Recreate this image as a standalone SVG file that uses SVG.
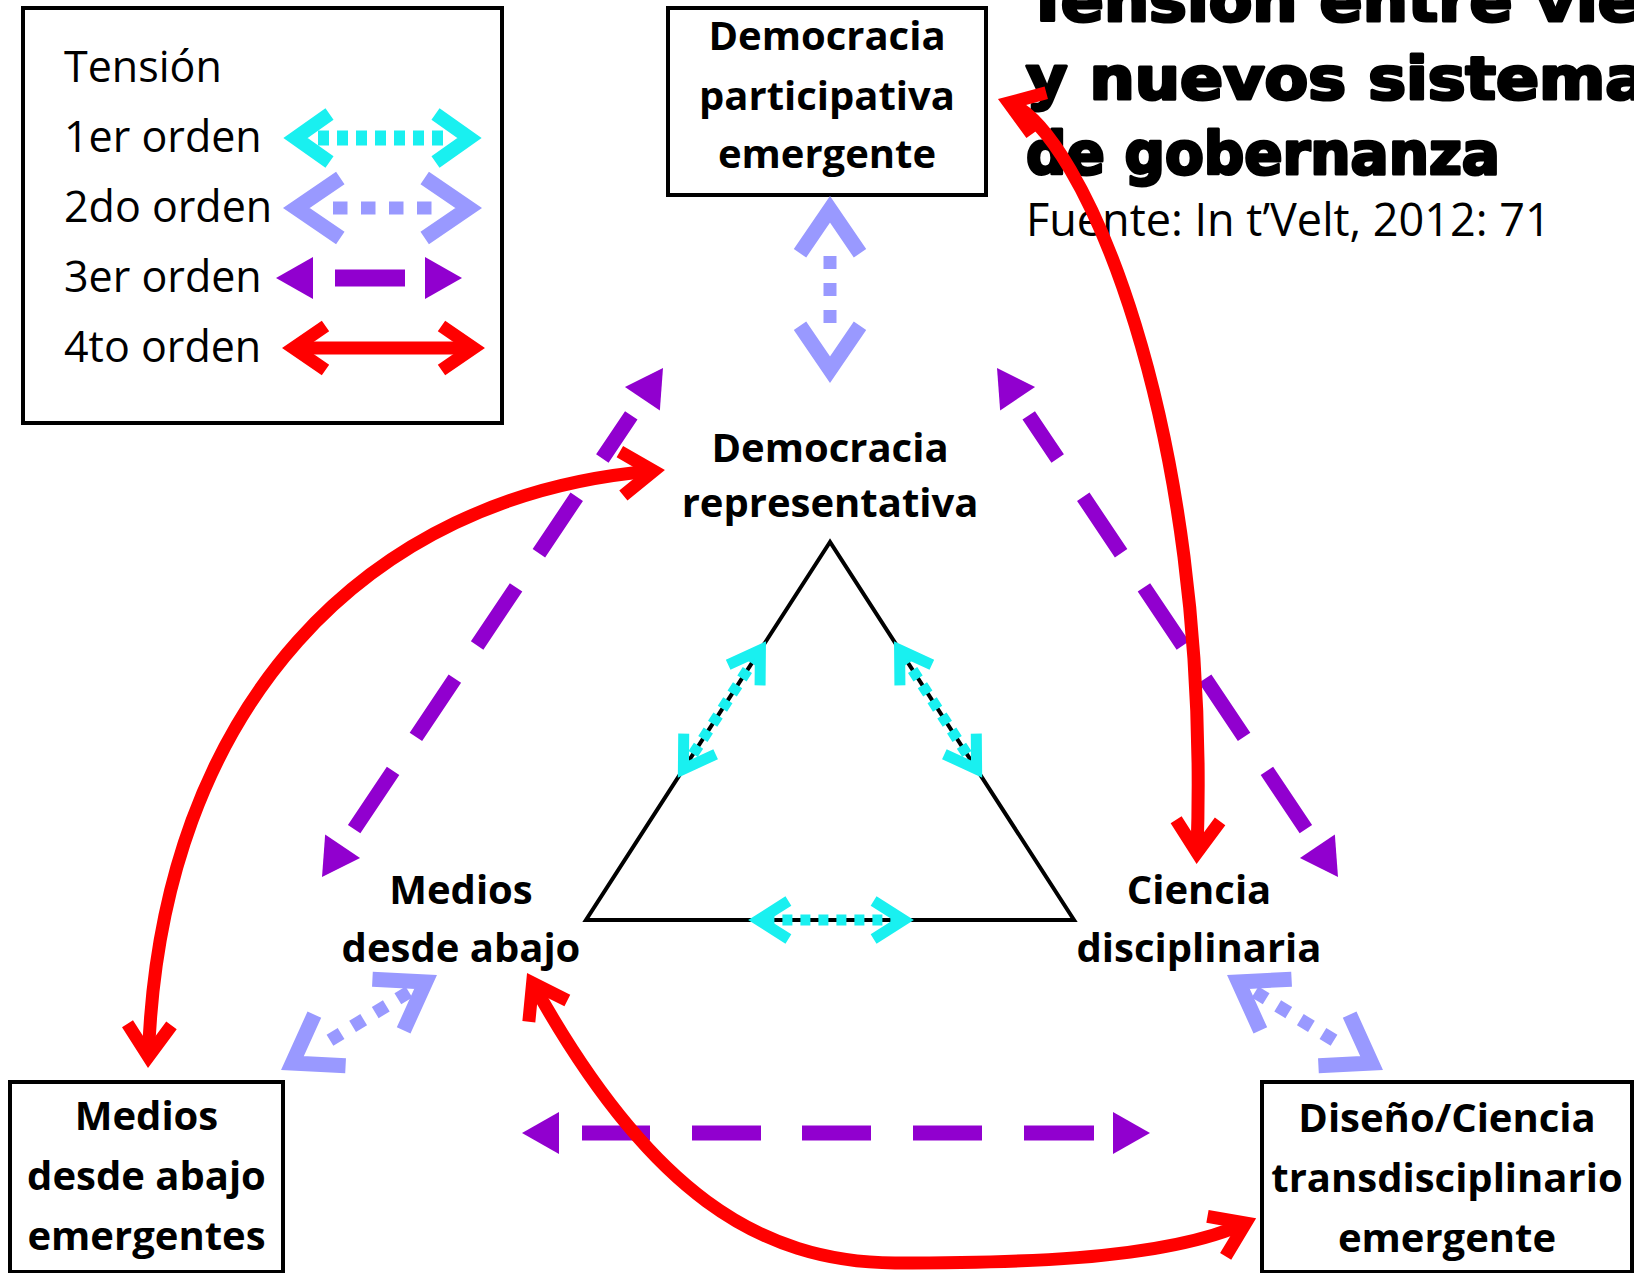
<svg xmlns="http://www.w3.org/2000/svg" width="1634" height="1273" viewBox="0 0 1634 1273">
<style>
.box{fill:none;stroke:#000;stroke-width:4}
.lbl{font-family:'Open Sans','Liberation Sans',sans-serif;font-weight:700;font-size:40px;text-anchor:middle;fill:#000}
.leg{font-family:'Open Sans','Liberation Sans',sans-serif;font-size:43px;fill:#000}
.src{font-family:'Open Sans','Liberation Sans',sans-serif;font-size:45px;fill:#000}
.ttl{font-family:'DejaVu Sans','Liberation Sans',sans-serif;font-weight:700;font-size:58px;fill:#000;stroke:#000;stroke-width:3;stroke-linejoin:round}
.cy{fill:none;stroke:#19F0F0;stroke-width:11}
.cyL{fill:none;stroke:#19F0F0;stroke-width:15}
.lav{fill:none;stroke:#9999FF;stroke-width:13}
.pur{fill:none;stroke:#9100CF;stroke-width:15}
.purL{fill:none;stroke:#9100CF;stroke-width:17}
.red{fill:none;stroke:#FF0000;stroke-width:13}
.hCy{fill:none;stroke:#19F0F0;stroke-width:11;stroke-linejoin:miter}
.hCyL{fill:none;stroke:#19F0F0;stroke-width:14;stroke-linejoin:miter}
.hLav{fill:none;stroke:#9999FF;stroke-width:15;stroke-linejoin:miter}
.hPur{fill:#9100CF;stroke:none}
.hRed{fill:none;stroke:#FF0000;stroke-width:13;stroke-linejoin:miter}
</style>
<defs>
<marker id="mCy" markerUnits="userSpaceOnUse" orient="auto-start-reverse" overflow="visible" markerWidth="10" markerHeight="10" refX="0" refY="0"><path class="hCy" d="M-30,-19 L0,0 L-30,19"/></marker>
<marker id="mCyL" markerUnits="userSpaceOnUse" orient="auto-start-reverse" overflow="visible" markerWidth="10" markerHeight="10" refX="0" refY="0"><path class="hCyL" d="M-34,-24 L0,0 L-34,24"/></marker>
<marker id="mLav" markerUnits="userSpaceOnUse" orient="auto-start-reverse" overflow="visible" markerWidth="10" markerHeight="10" refX="0" refY="0"><path class="hLav" d="M-44,-30 L0,0 L-44,30"/></marker>
<marker id="mPur" markerUnits="userSpaceOnUse" orient="auto-start-reverse" overflow="visible" markerWidth="10" markerHeight="10" refX="0" refY="0"><path class="hPur" d="M0,-21 L37,0 L0,21 Z"/></marker>
<marker id="mRed" markerUnits="userSpaceOnUse" orient="auto-start-reverse" overflow="visible" markerWidth="10" markerHeight="10" refX="0" refY="0"><path class="hRed" d="M-32,-22 L0,0 L-32,22"/></marker>
</defs>
<rect width="1634" height="1273" fill="#fff"/>

<g id="legend">
<rect class="box" x="23" y="8" width="479" height="415"/>
<text class="leg" x="64" y="82">Tensión</text>
<text class="leg" x="64" y="152">1er orden</text>
<text class="leg" x="64" y="222">2do orden</text>
<text class="leg" x="64" y="292">3er orden</text>
<text class="leg" x="64" y="362">4to orden</text>
<path class="cyL" d="M295.5,138 H469.5" stroke-dasharray="0 22.5 11 8 11 8 11 8 11 8 11 8 11 8 11 100" marker-start="url(#mCyL)" marker-end="url(#mCyL)"/>
<path class="lav" d="M296.3,208 H468.7" stroke-dasharray="0 36.7 14.5 13.5 14.5 13.5 14.5 13.5 14.5 100" marker-start="url(#mLav)" marker-end="url(#mLav)"/>
<path class="purL" d="M313,278 H425" stroke-dasharray="0 22 70 100" marker-start="url(#mPur)" marker-end="url(#mPur)"/>
<path class="red" d="M293.5,348 H473.5" marker-start="url(#mRed)" marker-end="url(#mRed)"/>
</g>

<g id="title">
<text class="ttl" x="1026" y="21" textLength="718" lengthAdjust="spacingAndGlyphs">Tensión entre viejos</text>
<text class="ttl" x="1026" y="99" textLength="660" lengthAdjust="spacingAndGlyphs">y nuevos sistemas</text>
<text class="ttl" x="1026" y="174" textLength="474" lengthAdjust="spacingAndGlyphs">de gobernanza</text>
<text class="src" x="1026" y="236">Fuente: In t’Velt, 2012: 71</text>
</g>

<g id="node-participativa">
<rect class="box" x="668" y="8" width="318" height="187"/>
<text class="lbl" x="827" y="50">Democracia</text>
<text class="lbl" x="827" y="110">participativa</text>
<text class="lbl" x="827" y="168">emergente</text>
</g>

<g id="node-representativa">
<text class="lbl" x="830" y="462">Democracia</text>
<text class="lbl" x="830" y="517">representativa</text>
</g>

<g id="node-medios">
<text class="lbl" x="461" y="904">Medios</text>
<text class="lbl" x="461" y="962">desde abajo</text>
</g>

<g id="node-ciencia">
<text class="lbl" x="1199" y="904">Ciencia</text>
<text class="lbl" x="1199" y="962">disciplinaria</text>
</g>

<g id="node-medios-emergentes">
<rect class="box" x="10" y="1082" width="273" height="190"/>
<text class="lbl" x="146.5" y="1130">Medios</text>
<text class="lbl" x="146.5" y="1190">desde abajo</text>
<text class="lbl" x="146.5" y="1250">emergentes</text>
</g>

<g id="node-diseno">
<rect class="box" x="1262" y="1082" width="370" height="190"/>
<text class="lbl" x="1447" y="1132">Diseño/Ciencia</text>
<text class="lbl" x="1447" y="1192">transdisciplinario</text>
<text class="lbl" x="1447" y="1252">emergente</text>
</g>

<g id="triangle">
<path d="M830,542 L586,920 L1074,920 Z" fill="none" stroke="#000" stroke-width="4" stroke-linejoin="miter"/>
</g>

<g id="connectors">
<path class="lav" d="M830,209.3 V369.7" stroke-dasharray="0 46.7 13 14 13 14 13 100" marker-start="url(#mLav)" marker-end="url(#mLav)"/>
<path class="lav" d="M425.6,981.9 L292.4,1063.1" stroke-dasharray="0 19.5 13 13.5 13 13.5 13 13.5 13 100" marker-start="url(#mLav)" marker-end="url(#mLav)"/>
<path class="lav" d="M1238.4,981.9 L1371.6,1063.1" stroke-dasharray="0 19.5 13 13.5 13 13.5 13 13.5 13 100" marker-start="url(#mLav)" marker-end="url(#mLav)"/>

<path class="cy" d="M760.4,649.9 L683.4,769.1" stroke-dasharray="10 8" stroke-dashoffset="12" marker-start="url(#mCy)" marker-end="url(#mCy)"/>
<path class="cy" d="M899.6,649.9 L976.6,769.1" stroke-dasharray="10 8" stroke-dashoffset="12" marker-start="url(#mCy)" marker-end="url(#mCy)"/>
<path class="cy" d="M758.4,920 H903.6" stroke-dasharray="10 8" stroke-dashoffset="12" marker-start="url(#mCy)" marker-end="url(#mCy)"/>

<path class="pur" d="M642.4,398.7 L342.6,846.3" stroke-dasharray="0 20 52 46 68 41 70 40 70 41 70 100" marker-start="url(#mPur)" marker-end="url(#mPur)"/>
<path class="pur" d="M1017.6,398.7 L1317.4,846.3" stroke-dasharray="0 20 52 46 68 41 70 40 70 41 70 100" marker-start="url(#mPur)" marker-end="url(#mPur)"/>
<path class="pur" d="M559,1133 H1113" stroke-dasharray="0 23 68 42 69 41 69 42 69 42 70 100" marker-start="url(#mPur)" marker-end="url(#mPur)"/>

<path class="red" d="M148.4,1056.5 C160.3,706.5 366.7,494 653.5,471" marker-start="url(#mRed)" marker-end="url(#mRed)"/>
<path class="red" d="M1008.8,102.9 C1080,128 1212,420 1197,852.5" marker-start="url(#mRed)" marker-end="url(#mRed)"/>
<path class="red" d="M532.6,983.1 C648.8,1193.1 760,1262 895,1263 C1000,1263 1160,1262 1245.7,1223.1" marker-start="url(#mRed)" marker-end="url(#mRed)"/>
</g>
</svg>
